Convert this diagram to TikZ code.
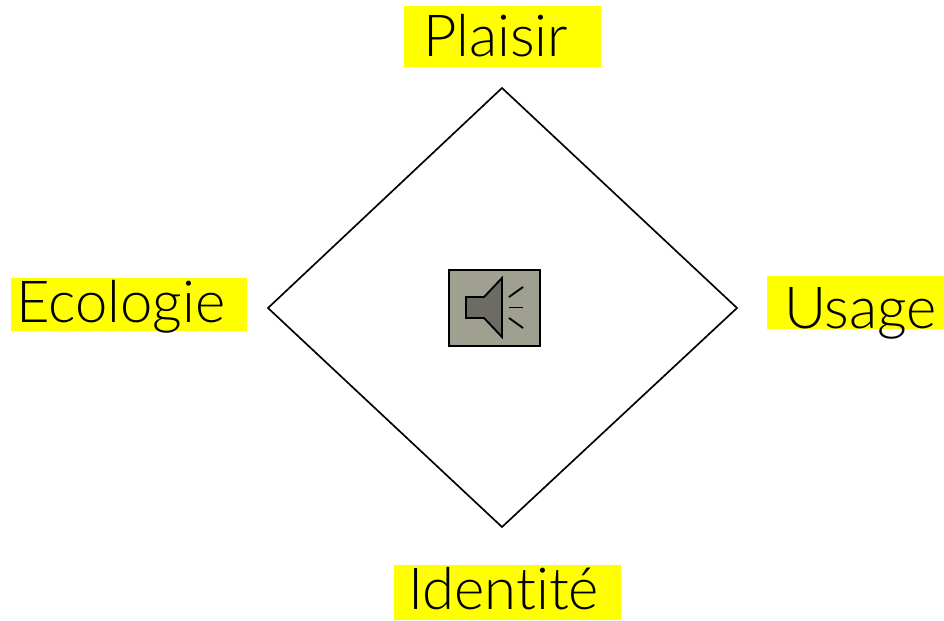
\documentclass[tikz,border=0pt]{standalone}
\usepackage{fontspec}
\setmainfont[Ligatures=NoCommon]{Lato Light}
\definecolor{hlyellow}{RGB}{255,255,0}
\definecolor{boxgrey}{RGB}{160,160,145}
\definecolor{conegrey}{RGB}{108,108,100}
\tikzset{
  hl/.style={fill=hlyellow,draw=none,inner sep=0pt,anchor=north west},
  lab/.style={inner sep=0pt,anchor=base west,font=\fontsize{43.5}{52}\selectfont},
  edgeline/.style={draw=black,line width=1.25pt,line join=miter},
  spk/.style={draw=black,line width=1.4pt,line join=miter}
}
\begin{document}
\begin{tikzpicture}[x=0.75pt,y=-0.75pt]
\useasboundingbox (0,0) rectangle (944,620);
\fill[white] (0,0) rectangle (944,620);
\node[hl,minimum width=147.75pt,minimum height=45.75pt] (hp) at (404,6) {};
\node[hl,minimum width=177pt,minimum height=39.75pt] (he) at (11,278) {};
\node[hl,minimum width=132.75pt,minimum height=39.75pt] (hu) at (767,276) {};
\node[hl,minimum width=170.25pt,minimum height=41.25pt] (hi) at (394,565) {};
\node[lab] (plaisir) at (423,57) {Plaisir};
\node[lab] (ecologie) at (16,322) {Ecologie};
\node[lab] (usage) at (784,328) {Usage};
\node[lab] (identite) at (408,609) {Identité};
\coordinate (dt) at (502,88);
\coordinate (dr) at (737,308);
\coordinate (db) at (502,527);
\coordinate (dl) at (268,308);
\draw[edgeline] (dt) -- (dr) -- (db) -- (dl) -- cycle;
\node[draw=black,line width=1.5pt,fill=boxgrey,inner sep=0pt,anchor=north west,minimum width=68.25pt,minimum height=57pt] (box) at (448,269) {};
\filldraw[spk,fill=conegrey] (466,297) -- (484,297) -- (502,278) -- (502,337) -- (484,318) -- (466,318) -- cycle;
\draw[spk] (509,297) -- (523,287);
\draw[spk] (509,307.5) -- (523,307.5);
\draw[spk] (509,318) -- (523,328);
\end{tikzpicture}
\end{document}
